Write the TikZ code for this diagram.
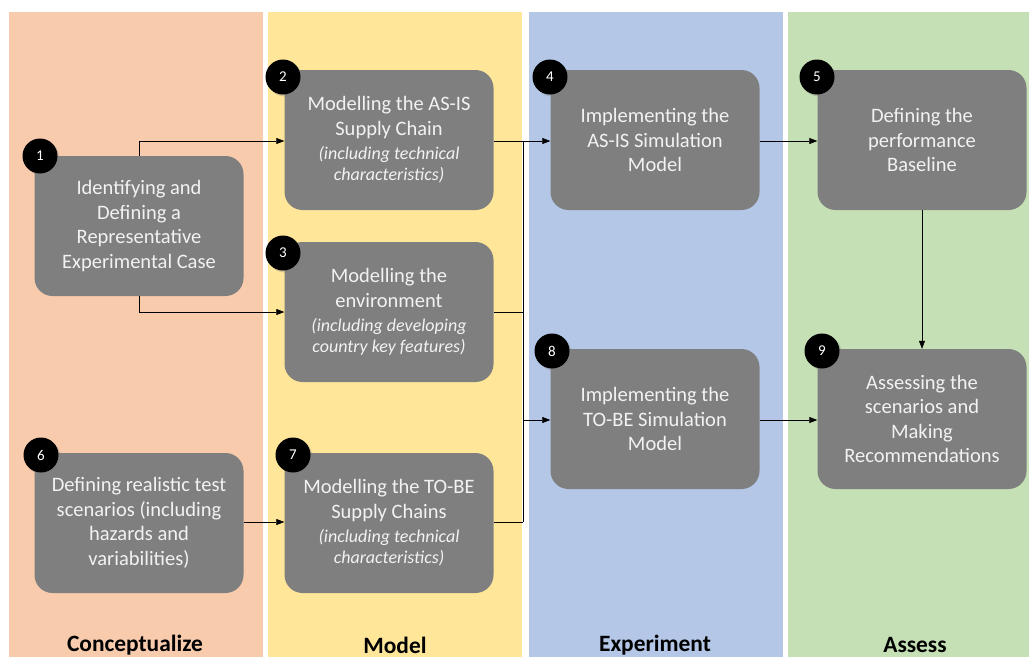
\documentclass[tikz,border=0pt]{standalone}
\usepackage{fontspec}
\setmainfont{Carlito}
\usepackage{xcolor}
\usepackage{tikz}
\usetikzlibrary{arrows.meta,shadows}
\definecolor{conceptColor}{HTML}{F8CBAD}
\definecolor{modelColor}{HTML}{FFE699}
\definecolor{experColor}{HTML}{B4C7E7}
\definecolor{assessColor}{HTML}{C5E0B4}
\definecolor{boxColor}{HTML}{7F7F7F}
\definecolor{textColor}{HTML}{F2F2F2}
\newcommand{\subnote}[1]{\textit{\fontsize{18}{21}\selectfont #1}}

\begin{document}
\begin{tikzpicture}[x=1pt,y=-1pt,
stepBox/.style={shape=rectangle,rounded corners=18pt,fill=boxColor,text=textColor,
    minimum width=209pt,minimum height=140pt,inner sep=0,align=center,
    font=\fontsize{20.5}{24.5}\selectfont},
numDot/.style={shape=circle,fill=black,text=white,minimum size=35pt,inner sep=0,
    font=\fontsize{15}{15}\selectfont,drop shadow={opacity=0.35,shadow xshift=2pt,shadow yshift=-2pt}},
laneTitle/.style={font=\bfseries\fontsize{23.4}{23.4}\selectfont,text=black},
link/.style={-{Triangle[length=8pt,width=6pt]},semithick},
plainLink/.style={semithick}
]
\useasboundingbox (0,0) rectangle (1029,657);
% lanes
\fill[conceptColor] (9,12) rectangle (263,657);
\fill[modelColor] (268,12) rectangle (522,657);
\fill[experColor] (529,12) rectangle (783,657);
\fill[assessColor] (788,12) rectangle (1029,657);
\node[laneTitle] (t1) at (135,645) {Conceptualize};
\node[laneTitle] (t2) at (395,645) {Model};
\node[laneTitle] (t3) at (655,645) {Experiment};
\node[laneTitle] (t4) at (915,645) {Assess};
% steps
\node[stepBox] (s1) at (139,226) {Identifying and\\Defining a\\Representative\\Experimental Case};
\node[stepBox] (s2) at (389,140) {Modelling the AS-IS\\Supply Chain\\\subnote{(including technical}\\[-3.5pt]\subnote{characteristics)}};
\node[stepBox] (s3) at (389,312) {Modelling the\\environment\\\subnote{(including developing}\\[-3.5pt]\subnote{country key features)}};
\node[stepBox] (s4) at (655,140) {Implementing the\\AS-IS Simulation\\Model};
\node[stepBox] (s5) at (922,140) {Defining the\\performance\\Baseline};
\node[stepBox] (s6) at (139,523) {Defining realistic test\\scenarios (including\\hazards and\\variabilities)};
\node[stepBox] (s7) at (389,523) {Modelling the TO-BE\\Supply Chains\\\subnote{(including technical}\\[-3.5pt]\subnote{characteristics)}};
\node[stepBox] (s8) at (655,419) {Implementing the\\TO-BE Simulation\\Model};
\node[stepBox] (s9) at (922,419) {Assessing the\\scenarios and\\Making\\Recommendations};
% numbers
\node[numDot] (n1) at (40,156) {1};
\node[numDot] (n2) at (283,77) {2};
\node[numDot] (n3) at (283,253) {3};
\node[numDot] (n4) at (550,77) {4};
\node[numDot] (n5) at (817,77) {5};
\node[numDot] (n6) at (41,455) {6};
\node[numDot] (n7) at (293,455) {7};
\node[numDot] (n8) at (552,351) {8};
\node[numDot] (n9) at (822,351) {9};
% connectors
\coordinate (j1) at (523,141);
\coordinate (j2) at (523,312);
\coordinate (j3) at (523,420);
\coordinate (j4) at (523,522);
\draw[link] (s1.north) |- (s2.west |- j1);
\draw[link] (s1.south) |- (s3.west |- j2);
\draw[link] (s6.east |- j4) -- (s7.west |- j4);
\draw[link] (s2.east |- j1) -- (s4.west |- j1);
\draw[plainLink] (s3.east |- j2) -- (j2);
\draw[plainLink] (s7.east |- j4) -- (j4);
\draw[plainLink] (j1) -- (j4);
\draw[link] (j3) -- (s8.west |- j3);
\draw[link] (s4.east |- j1) -- (s5.west |- j1);
\draw[link] (s5.south) -- (s9.north);
\draw[link] (s8.east |- j3) -- (s9.west |- j3);
\end{tikzpicture}
\end{document}
